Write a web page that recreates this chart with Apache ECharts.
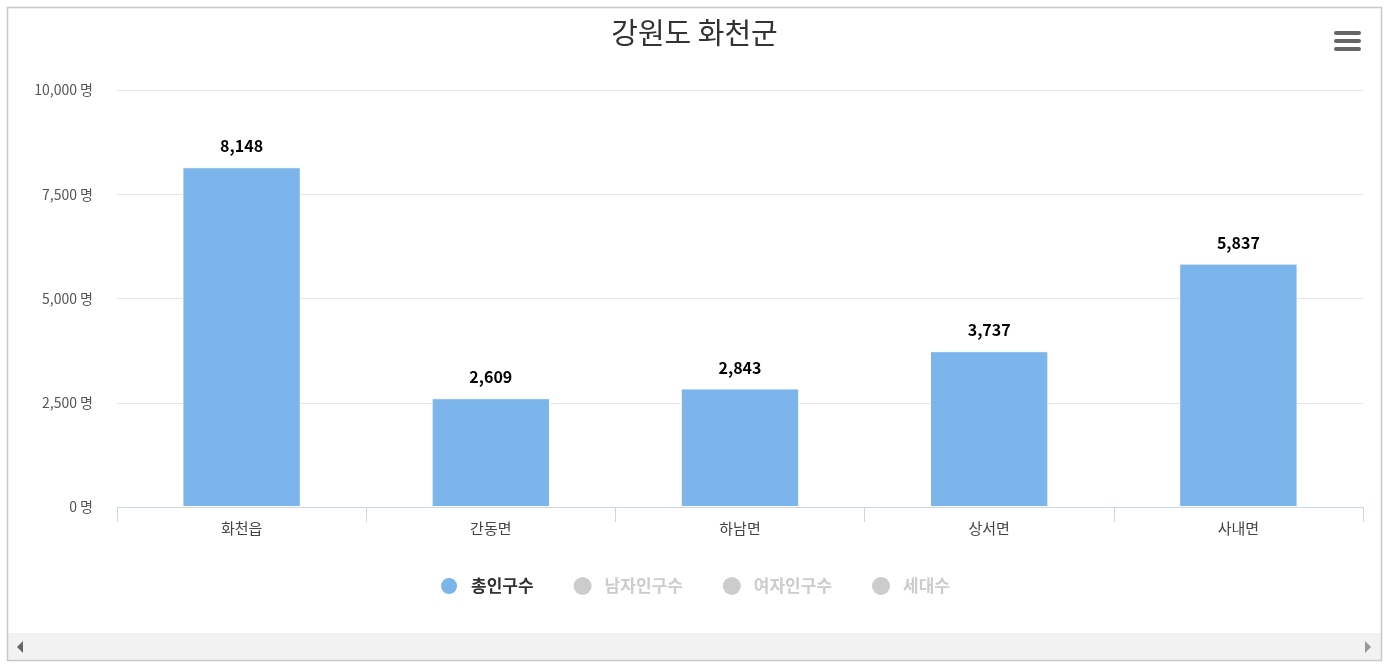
<!DOCTYPE html>
<html>
<head>
<meta charset="utf-8">
<script src="https://cdn.jsdelivr.net/npm/echarts@6/dist/echarts.min.js"></script>
<style>
html,body{margin:0;padding:0;background:#fff;}
#chart{width:1389px;height:668px;}
</style>
</head>
<body>
<div id="chart"></div>
<script>
const titleText = '강원도 화천군';
const categories = ['화천읍', '간동면', '하남면', '상서면', '사내면'];
const seriesNames = ['총인구수', '남자인구수', '여자인구수', '세대수'];
const totalPopulation = [8148, 2609, 2843, 3737, 5837];
const yTicks = [0, 2500, 5000, 7500, 10000];

const FONT = '"Noto Sans CJK KR", "Noto Sans", sans-serif';
const chart = echarts.init(document.getElementById('chart'), null, {renderer: 'canvas'});

const fmt = v => v.toLocaleString('en-US');

const option = {
  backgroundColor: '#ffffff',
  animation: false,
  title: {
    text: titleText,
    left: 'center',
    top: 13,
    textStyle: {fontFamily: FONT, fontSize: 29, fontWeight: 'normal', color: '#333333'}
  },
  legend: {
    data: seriesNames,
    selected: {'총인구수': true, '남자인구수': false, '여자인구수': false, '세대수': false},
    top: 571,
    left: 'center',
    icon: 'circle',
    itemWidth: 18,
    itemHeight: 18,
    itemGap: 40,
    inactiveColor: '#cccccc',
    textStyle: {fontFamily: FONT, fontSize: 17, fontWeight: 'bold', color: '#333333', padding: [0, 0, 0, 8]}
  },
  grid: {left: 117, right: 26, top: 90, bottom: 161, containLabel: false},
  xAxis: {
    type: 'category',
    data: categories,
    axisLine: {lineStyle: {color: '#ccd6eb', width: 1}},
    axisTick: {show: true, length: 15, lineStyle: {color: '#ccd6eb'}, alignWithLabel: false},
    axisLabel: {fontFamily: FONT, fontSize: 15, color: '#444444', margin: 14},
    splitLine: {show: false}
  },
  yAxis: {
    type: 'value',
    min: yTicks[0],
    max: yTicks[yTicks.length - 1],
    interval: 2500,
    axisLine: {show: false},
    axisTick: {show: false},
    axisLabel: {
      fontFamily: FONT, fontSize: 14, color: '#555555', margin: 24,
      formatter: v => fmt(v) + ' 명'
    },
    splitLine: {lineStyle: {color: '#e6e6e6', width: 1}}
  },
  series: [
    {
      name: seriesNames[0],
      type: 'bar',
      data: totalPopulation,
      barWidth: '47.5%',
      itemStyle: {color: '#7cb5ec', borderColor: '#ffffff', borderWidth: 1},
      label: {
        show: true, position: 'top', distance: 13,
        fontFamily: FONT, fontSize: 16, fontWeight: 'bold', color: '#000000',
        formatter: p => fmt(p.value)
      }
    },
    {name: seriesNames[1], type: 'bar', data: [], itemStyle: {color: '#434348'}},
    {name: seriesNames[2], type: 'bar', data: [], itemStyle: {color: '#90ed7d'}},
    {name: seriesNames[3], type: 'bar', data: [], itemStyle: {color: '#f7a35c'}}
  ],
  graphic: [
    {type: 'rect', shape: {x: 7.5, y: 7.5, width: 1374, height: 653}, style: {fill: 'none', stroke: '#c8c8c8', lineWidth: 1.5}, z: 100},
    {type: 'rect', shape: {x: 8, y: 633, width: 1373, height: 27}, style: {fill: '#f2f2f2'}, z: 90},
    {type: 'polygon', shape: {points: [[23, 641], [23, 653], [17, 647]]}, style: {fill: '#666666'}, z: 95},
    {type: 'polygon', shape: {points: [[1365, 641], [1365, 653], [1371, 647]]}, style: {fill: '#999999'}, z: 95},
    {type: 'rect', shape: {x: 1334, y: 31, width: 27, height: 4, r: 2}, style: {fill: '#666666'}, z: 95},
    {type: 'rect', shape: {x: 1334, y: 39, width: 27, height: 4, r: 2}, style: {fill: '#666666'}, z: 95},
    {type: 'rect', shape: {x: 1334, y: 47, width: 27, height: 4, r: 2}, style: {fill: '#666666'}, z: 95}
  ]
};
chart.setOption(option);
</script>
</body>
</html>
